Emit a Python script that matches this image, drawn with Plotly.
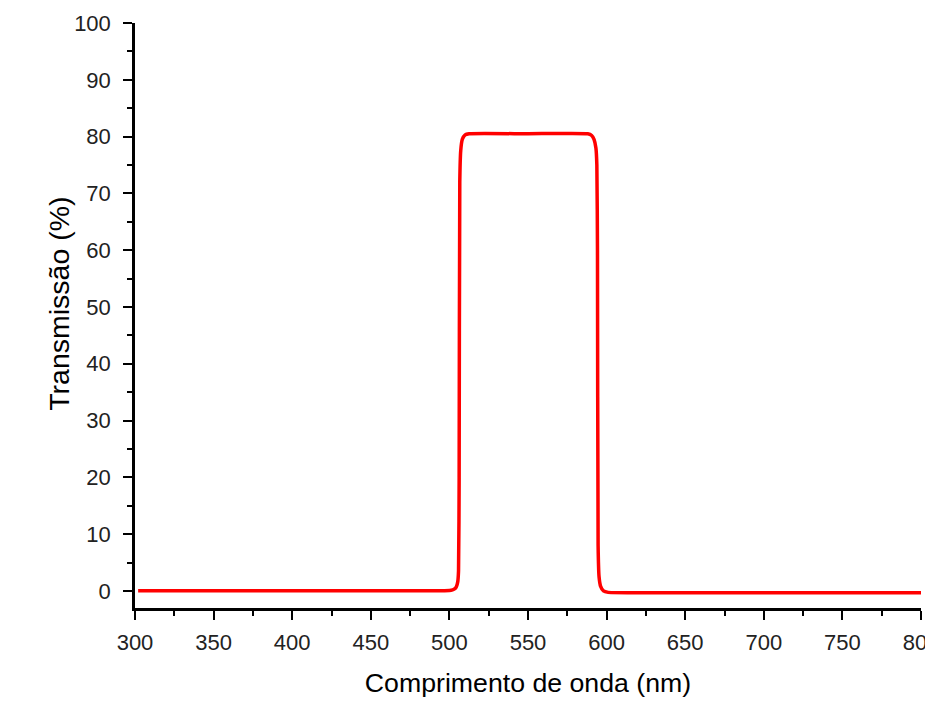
import plotly.graph_objects as go

# Transmission spectrum
wavelength_nm = [302, 400, 480, 500, 502, 503.5, 504.5, 505.3, 505.8, 506.2, 506.6,
                 507.2, 508.2, 510, 512.5, 550, 588, 590.5, 592, 593.2, 593.8,
                 594.2, 594.6, 595.2, 596.2, 598, 601, 650, 700, 800]
transmission_pct = [0.05, 0.05, 0.05, 0.1, 0.2, 0.4, 0.8, 1.6, 3.5, 20, 72,
                    77.5, 79.5, 80.3, 80.5, 80.5, 80.5, 80.2, 79.5, 78, 75,
                    60, 8, 2.5, 0.8, 0.0, -0.25, -0.3, -0.3, -0.3]

x_ticks = [300, 350, 400, 450, 500, 550, 600, 650, 700, 750, 800]
y_ticks = [0, 10, 20, 30, 40, 50, 60, 70, 80, 90, 100]

fig = go.Figure()
fig.add_trace(go.Scatter(
    x=wavelength_nm, y=transmission_pct, mode="lines",
    line=dict(color="#ff0000", width=3.5, shape="spline", smoothing=0.5),
    showlegend=False, hoverinfo="skip", cliponaxis=False))

font_family = "Liberation Sans, Arial, sans-serif"
axis_common = dict(
    showline=True, linecolor="black", linewidth=2.5,
    ticks="outside", ticklen=9, tickwidth=2, tickcolor="black",
    showgrid=False, zeroline=False, automargin=False,
    ticklabeloverflow="allow",
    tickfont=dict(family=font_family, size=22, color="#222222"),
)

fig.update_layout(
    width=925, height=693,
    margin=dict(l=127, r=12, t=15, b=93),
    paper_bgcolor="white", plot_bgcolor="white",
    font=dict(family=font_family, color="black"),
    xaxis=dict(
        range=[300, 800], tickvals=x_ticks, ticktext=[str(v) for v in x_ticks],
        minor=dict(ticks="outside", ticklen=5, tickwidth=2, tickcolor="black", dtick=25, tick0=300),
        title=dict(text="Comprimento de onda (nm)", font=dict(family=font_family, size=26.7, color="black"), standoff=20),
        ticklabelstandoff=4,
        **axis_common),
    yaxis=dict(
        range=[-3, 100], tickvals=y_ticks, ticktext=[str(v) for v in y_ticks],
        minor=dict(ticks="outside", ticklen=5, tickwidth=2, tickcolor="black", dtick=5, tick0=0),
        ticklabelstandoff=8,
        **axis_common),
    annotations=[dict(
        text="Transmissão (%)", textangle=-90, showarrow=False,
        xref="paper", yref="paper", x=-0.0967, y=0.52,
        xanchor="center", yanchor="middle",
        font=dict(family=font_family, size=28.5, color="black"))],
)

fig.write_html("out.html")
